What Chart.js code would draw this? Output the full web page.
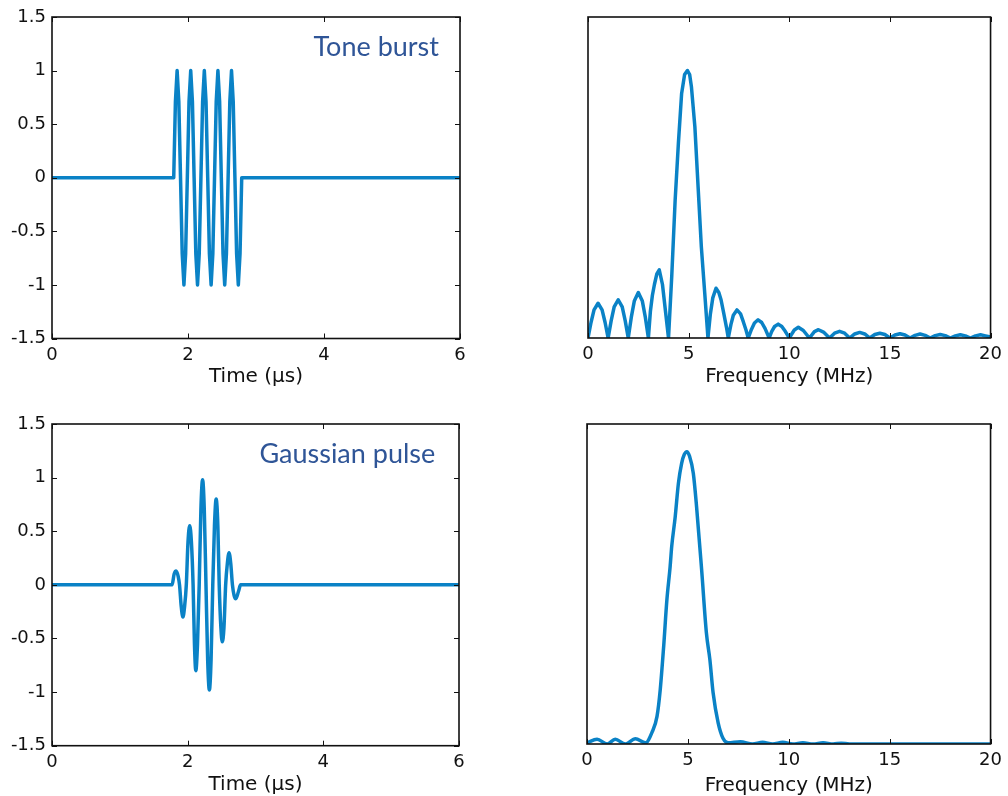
<!DOCTYPE html>
<html>
<head>
<meta charset="utf-8">
<script src="https://cdn.jsdelivr.net/npm/chart.js@4.4.1/dist/chart.umd.min.js"></script>
<style>
  html, body { margin: 0; padding: 0; background: #fff; }
  #wrap { position: relative; width: 1008px; height: 796px; }
  canvas { position: absolute; }
</style>
</head>
<body>
<div id="wrap">
  <canvas id="burstTimeChart" width="504" height="398" style="left:0;top:0"></canvas>
  <canvas id="burstFreqChart" width="504" height="398" style="left:504px;top:0"></canvas>
  <canvas id="gaussTimeChart" width="504" height="398" style="left:0;top:398px"></canvas>
  <canvas id="gaussFreqChart" width="504" height="398" style="left:504px;top:398px"></canvas>
</div>
<script>
// tick labels
const timeTicks = [0, 2, 4, 6];
const ampTicks = [-1.5, -1, -0.5, 0, 0.5, 1, 1.5];
const freqTicks = [0, 5, 10, 15, 20];

// tone burst, time domain (us)
const burstTime = [0, 1.79, 1.815, 1.84, 1.865, 1.89, 1.915, 1.94, 1.965,
  1.99, 2.015, 2.04, 2.065, 2.09, 2.115, 2.14, 2.165,
  2.19, 2.215, 2.24, 2.265, 2.29, 2.315, 2.34, 2.365,
  2.39, 2.415, 2.44, 2.465, 2.49, 2.515, 2.54, 2.565,
  2.59, 2.615, 2.64, 2.665, 2.69, 2.715, 2.74, 2.765, 2.79, 6];
const burstAmp = [0, 0, 0.71, 1, 0.71, 0, -0.71, -1, -0.71,
  0, 0.71, 1, 0.71, 0, -0.71, -1, -0.71,
  0, 0.71, 1, 0.71, 0, -0.71, -1, -0.71,
  0, 0.71, 1, 0.71, 0, -0.71, -1, -0.71,
  0, 0.71, 1, 0.71, 0, -0.71, -1, -0.71, 0, 0];

// gaussian pulse, time domain (us)
const gaussTime = [0, 1.77, 1.8, 1.83, 1.86, 1.88, 1.905, 1.93, 1.955, 1.98,
  2.005, 2.03, 2.055, 2.08, 2.1, 2.12, 2.145, 2.17, 2.195, 2.22,
  2.245, 2.27, 2.295, 2.32, 2.345, 2.37, 2.395, 2.42, 2.445, 2.465,
  2.49, 2.51, 2.535, 2.56, 2.585, 2.61, 2.635, 2.66, 2.685, 2.71,
  2.75, 2.78, 6];
const gaussAmp = [0, 0, 0.1, 0.13, 0.08, 0, -0.2, -0.3, -0.2, 0,
  0.4, 0.55, 0.4, 0, -0.55, -0.8, -0.55, 0, 0.7, 0.98,
  0.7, 0, -0.7, -0.98, -0.7, 0, 0.55, 0.8, 0.55, 0,
  -0.4, -0.53, -0.4, 0, 0.2, 0.3, 0.2, 0, -0.1, -0.13,
  -0.06, 0, 0];

// tone burst spectrum (MHz)
const burstFreq = [0, 0.15, 0.3, 0.5, 0.7, 0.85, 1,
  1.15, 1.3, 1.5, 1.7, 1.85, 2,
  2.15, 2.3, 2.5, 2.7, 2.85, 3,
  3.1, 3.2, 3.3, 3.42, 3.54, 3.7, 3.85, 4,
  4.16, 4.33, 4.49, 4.65, 4.8, 4.94, 5.05, 5.14, 5.31, 5.47, 5.63, 5.8, 5.96,
  6.08, 6.2, 6.36, 6.5, 6.61, 6.75, 6.88, 6.97,
  7.1, 7.22, 7.4, 7.58, 7.72, 7.85, 7.96,
  8.12, 8.27, 8.45, 8.63, 8.8, 9,
  9.13, 9.27, 9.45, 9.63, 9.8, 10,
  10.25, 10.45, 10.7, 11,
  11.25, 11.45, 11.7, 12,
  12.25, 12.5, 12.75, 13,
  13.25, 13.5, 13.75, 14,
  14.25, 14.5, 14.75, 15,
  15.25, 15.5, 15.75, 16,
  16.25, 16.5, 16.75, 17,
  17.25, 17.5, 17.75, 18,
  18.25, 18.5, 18.75, 19,
  19.25, 19.5, 19.75, 20];
const burstMag = [0, 0.058, 0.105, 0.13, 0.105, 0.058, 0,
  0.064, 0.116, 0.143, 0.116, 0.064, 0,
  0.077, 0.138, 0.17, 0.138, 0.077, 0,
  0.1, 0.16, 0.2, 0.24, 0.255, 0.2, 0.1, 0,
  0.23, 0.516, 0.727, 0.913, 0.985, 1.0, 0.985, 0.938, 0.789, 0.565, 0.342, 0.168, 0,
  0.09, 0.15, 0.186, 0.17, 0.143, 0.09, 0.04, 0,
  0.05, 0.085, 0.105, 0.09, 0.06, 0.03, 0,
  0.032, 0.056, 0.068, 0.058, 0.035, 0,
  0.025, 0.043, 0.052, 0.043, 0.025, 0,
  0.03, 0.04, 0.028, 0,
  0.024, 0.031, 0.022, 0,
  0.018, 0.025, 0.018, 0,
  0.015, 0.021, 0.015, 0,
  0.013, 0.018, 0.013, 0,
  0.011, 0.016, 0.011, 0,
  0.01, 0.015, 0.01, 0,
  0.009, 0.013, 0.009, 0,
  0.008, 0.012, 0.008, 0,
  0.008, 0.012, 0.008, 0.004];

// gaussian pulse spectrum (MHz)
const gaussFreq = [0, 0.5, 1, 1.4, 1.9, 2.4, 2.9, 3.22, 3.47, 3.63,
  3.8, 3.96, 4.12, 4.2, 4.37, 4.53, 4.69, 4.82, 4.95, 5.08,
  5.27, 5.43, 5.68, 5.92, 6.09, 6.25, 6.5, 6.74, 6.99, 7.6,
  8.2, 8.7, 9.2, 9.7, 10.2, 10.7, 11.2, 11.7, 12.2, 12.6, 13, 20];
const gaussMag = [0.004, 0.016, 0, 0.016, 0, 0.018, 0.004, 0.04, 0.095, 0.187,
  0.336, 0.496, 0.61, 0.68, 0.78, 0.896, 0.965, 0.995, 1.005, 0.99,
  0.93, 0.816, 0.6, 0.38, 0.29, 0.176, 0.073, 0.02, 0.004, 0.008,
  0, 0.006, 0, 0.006, 0, 0.004, 0, 0.004, 0, 0.003, 0, 0];

const LINE = '#0a82c6';
const FONT = "'DejaVu Sans', Verdana, sans-serif";

// box + inward ticks, matlab style
const framePlugin = {
  id: 'frame',
  afterDatasetsDraw(chart, args, opts) {
    const { ctx, chartArea: a } = chart;
    const x = chart.scales.x, y = chart.scales.y;
    ctx.save();
    ctx.strokeStyle = '#111';
    ctx.lineWidth = 1;
    ctx.beginPath();
    x.ticks.forEach(t => {
      const px = Math.round(x.getPixelForValue(t.value)) + 0.5;
      ctx.moveTo(px, a.bottom); ctx.lineTo(px, a.bottom - 5);
      ctx.moveTo(px, a.top); ctx.lineTo(px, a.top + 5);
    });
    if (opts.yTicks) {
      y.ticks.forEach(t => {
        const py = Math.round(y.getPixelForValue(t.value)) + 0.5;
        ctx.moveTo(a.left, py); ctx.lineTo(a.left + 5, py);
        ctx.moveTo(a.right, py); ctx.lineTo(a.right - 5, py);
      });
    }
    ctx.stroke();
    ctx.lineWidth = 1.6;
    ctx.strokeRect(a.left, a.top, a.right - a.left, a.bottom - a.top);
    if (opts.note) {
      ctx.font = "27px Lato, 'Open Sans', sans-serif";
      ctx.fillStyle = '#2f5597';
      ctx.textAlign = 'right';
      ctx.textBaseline = 'alphabetic';
      ctx.fillText(opts.note, x.getPixelForValue(opts.noteX), y.getPixelForValue(opts.noteY));
    }
    ctx.restore();
  }
};

function makeChart(canvasId, xs, ys, p) {
  const ctx = document.getElementById(canvasId).getContext('2d');
  const showY = p.yTicks != null;
  return new Chart(ctx, {
    type: 'line',
    data: {
      datasets: [{
        data: xs.map((v, i) => ({ x: v, y: ys[i] })),
        borderColor: LINE,
        borderWidth: 3.5,
        pointRadius: 0,
        tension: 0,
        cubicInterpolationMode: p.smooth ? 'monotone' : 'default',
        borderJoinStyle: 'round',
        borderCapStyle: 'round'
      }]
    },
    options: {
      responsive: false,
      animation: false,
      events: [],
      layout: { padding: p.pad },
      plugins: {
        legend: { display: false },
        tooltip: { enabled: false },
        frame: { yTicks: showY, note: p.note, noteX: p.noteX, noteY: p.noteY }
      },
      scales: {
        x: {
          type: 'linear',
          min: p.xTicks[0],
          max: p.xTicks[p.xTicks.length - 1],
          afterBuildTicks: s => { s.ticks = p.xTicks.map(v => ({ value: v })); },
          afterFit: s => { s.height = p.xH; },
          grid: { display: false, drawTicks: false },
          border: { display: false },
          ticks: {
            autoSkip: false, maxRotation: 0, padding: 6,
            color: '#111', font: { family: FONT, size: 18 },
            callback: v => String(v)
          },
          title: {
            display: true, text: p.xTitle, color: '#111',
            font: { family: FONT, size: 20, lineHeight: 1 },
            padding: { top: 0, bottom: p.titlePad }
          }
        },
        y: {
          type: 'linear',
          display: showY,
          min: p.yMin,
          max: p.yMax,
          afterBuildTicks: s => { if (showY) s.ticks = p.yTicks.map(v => ({ value: v })); },
          afterFit: s => { s.width = showY ? 52 : 0; },
          grid: { display: false, drawTicks: false },
          border: { display: false },
          ticks: {
            autoSkip: false, padding: 6,
            color: '#111', font: { family: FONT, size: 18 },
            callback: v => String(v)
          }
        }
      }
    },
    plugins: [framePlugin]
  });
}

makeChart('burstTimeChart', burstTime, burstAmp, {
  xTicks: timeTicks, yTicks: ampTicks, yMin: -1.5, yMax: 1.5,
  xTitle: 'Time (\u03bcs)', note: 'Tone burst', noteX: 5.69, noteY: 1.135,
  pad: { left: 0, top: 17, right: 44, bottom: 0 }, xH: 59.5, titlePad: 11
});
makeChart('burstFreqChart', burstFreq, burstMag, {
  xTicks: freqTicks, yTicks: null, yMin: 0, yMax: 1.2,
  xTitle: 'Frequency (MHz)',
  pad: { left: 84, top: 17, right: 11, bottom: 0 }, xH: 60, titlePad: 11
});
makeChart('gaussTimeChart', gaussTime, gaussAmp, {
  xTicks: timeTicks, yTicks: ampTicks, yMin: -1.5, yMax: 1.5, smooth: true,
  xTitle: 'Time (\u03bcs)', note: 'Gaussian pulse', noteX: 5.65, noteY: 1.135,
  pad: { left: 0, top: 26, right: 45, bottom: 0 }, xH: 50.3, titlePad: 1
});
makeChart('gaussFreqChart', gaussFreq, gaussMag, {
  xTicks: freqTicks, yTicks: null, yMin: 0, yMax: 1.1, smooth: true,
  xTitle: 'Frequency (MHz)',
  pad: { left: 83, top: 26, right: 13, bottom: 0 }, xH: 52, titlePad: 0
});
</script>
</body>
</html>
